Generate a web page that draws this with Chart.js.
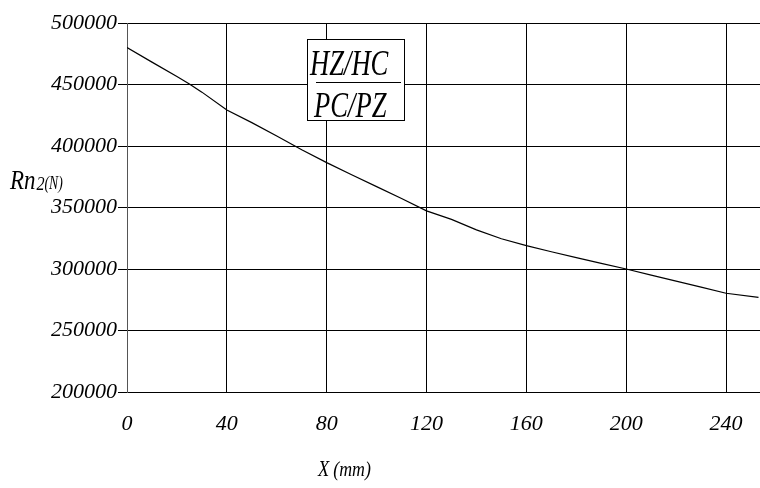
<!DOCTYPE html>
<html>
<head>
<meta charset="utf-8">
<script src="https://cdn.jsdelivr.net/npm/chart.js@4.4.1/dist/chart.umd.min.js"></script>
<style>
html,body{margin:0;padding:0;background:#fff;}
#wrap{width:760px;height:488px;position:relative;}
</style>
</head>
<body>
<div id="wrap"><canvas id="c" width="760" height="488"></canvas></div>
<script>
// ---- data ----
const xPositions = [0, 10, 20, 25, 30, 40, 50, 60, 70, 80, 90, 100, 110, 120, 130, 140, 150, 160, 170, 180, 190, 200, 210, 220, 230, 240, 253];
const rn2Values  = [480000, 468200, 456500, 450500, 443800, 429300, 419000, 408200, 397000, 386500, 376600, 367000, 357300, 347300, 340300, 331800, 324600, 319000, 314000, 309200, 304600, 300000, 295000, 290100, 285200, 280300, 277000];
const xTicks = [0, 40, 80, 120, 160, 200, 240];
const yTicks = [200000, 250000, 300000, 350000, 400000, 450000, 500000];
const yAxisTitle = ["Rn", "2", "(N)"];
const xAxisTitle = ["X", "(mm)"];
const legendTop = "HZ/HC";
const legendBottom = "PC/PZ";

const serif = "'Liberation Serif', 'DejaVu Serif'";

function drawScaled(ctx, text, x, y, size, sx, family, italic) {
  ctx.save();
  ctx.translate(x, y);
  ctx.scale(sx, 1);
  ctx.font = (italic ? 'italic ' : '') + size + 'px ' + family;
  ctx.fillText(text, 0, 0);
  const w = ctx.measureText(text).width * sx;
  ctx.restore();
  return w;
}

const annotations = {
  id: 'annotations',
  afterDraw(chart) {
    const ctx = chart.ctx;
    ctx.save();
    ctx.fillStyle = '#000';
    ctx.textBaseline = 'alphabetic';
    ctx.textAlign = 'left';
    // y-axis title
    let x = 10;
    x += drawScaled(ctx, yAxisTitle[0], x, 189, 27, 0.85, serif, true);
    x += drawScaled(ctx, yAxisTitle[1], x + 1, 190, 19, 0.85, serif, true) + 1;
    drawScaled(ctx, yAxisTitle[2], x, 189, 19, 0.72, serif, true);
    // x-axis title
    let x2 = 318;
    x2 += drawScaled(ctx, xAxisTitle[0], x2, 476, 23, 0.8, serif, true);
    drawScaled(ctx, xAxisTitle[1], x2 + 4, 476, 21, 0.85, serif, true);
    // legend box
    const bx = 307.5, by = 39.5, bw = 97, bh = 81;
    ctx.fillStyle = '#fff';
    ctx.fillRect(bx, by, bw, bh);
    ctx.strokeStyle = '#000';
    ctx.lineWidth = 1;
    ctx.strokeRect(bx, by, bw, bh);
    ctx.fillStyle = '#000';
    drawScaled(ctx, legendTop, 310, 75, 35, 0.76, serif, true);
    ctx.beginPath();
    ctx.moveTo(316, 82.5);
    ctx.lineTo(401, 82.5);
    ctx.stroke();
    drawScaled(ctx, legendBottom, 314, 117, 35, 0.76, serif, true);
    ctx.restore();
  }
};

const ctx = document.getElementById('c').getContext('2d');
new Chart(ctx, {
  type: 'line',
  data: {
    datasets: [{
      data: xPositions.map((v, i) => ({ x: v, y: rn2Values[i] })),
      borderColor: '#000',
      borderWidth: 1.2,
      pointRadius: 0,
      tension: 0,
      fill: false
    }]
  },
  options: {
    responsive: false,
    animation: false,
    layout: { padding: { top: 23, right: 0, left: 0, bottom: 0 } },
    plugins: { legend: { display: false }, tooltip: { enabled: false } },
    scales: {
      x: {
        type: 'linear',
        min: 0,
        max: 253.6,
        afterBuildTicks(scale) { scale.ticks = xTicks.map(v => ({ value: v })); },
        afterFit(scale) { scale.height = 96; scale.paddingLeft = 0; scale.paddingRight = 0; },
        grid: { color: '#000', lineWidth: 1, drawTicks: false },
        border: { display: true, color: '#000' },
        ticks: {
          color: '#000',
          padding: 19,
          maxRotation: 0,
          font: { family: serif, style: 'italic', size: 22 },
          callback: v => String(v)
        }
      },
      y: {
        min: 200000,
        max: 500000,
        afterBuildTicks(scale) { scale.ticks = yTicks.map(v => ({ value: v })); },
        afterFit(scale) { scale.width = 127; },
        grid: { color: '#000', lineWidth: 1, drawTicks: true, tickLength: 9 },
        border: { display: true, color: '#555' },
        ticks: {
          color: '#000',
          padding: 1,
          font: { family: serif, style: 'italic', size: 22 },
          callback: v => String(v)
        }
      }
    }
  },
  plugins: [annotations]
});
</script>
</body>
</html>
